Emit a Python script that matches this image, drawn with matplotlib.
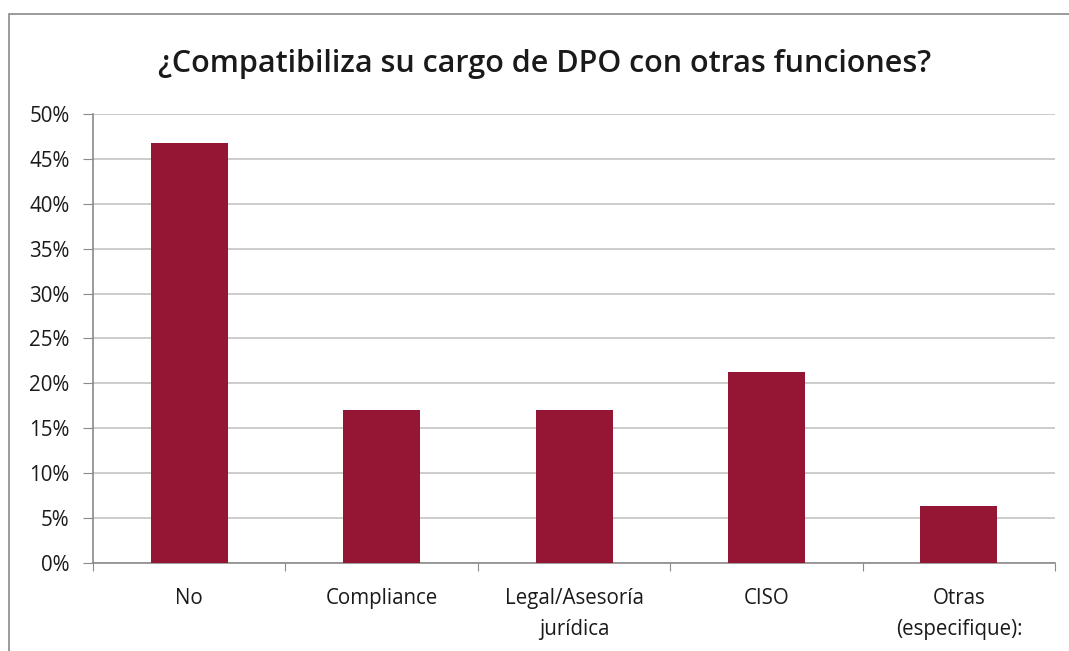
import matplotlib.pyplot as plt
from matplotlib.patches import Rectangle
from matplotlib.ticker import FuncFormatter

categories = ["No", "Compliance", "Legal/Asesoría\njurídica", "CISO", "Otras\n(especifique):"]
values = [46.8, 17.0, 17.0, 21.3, 6.4]
title = "¿Compatibiliza su cargo de DPO con otras funciones?"

plt.rcParams["font.family"] = ["Open Sans", "DejaVu Sans"]

fig = plt.figure(figsize=(10.69, 6.51), dpi=100)
ax = fig.add_axes([0.087, 0.1352, 0.900, 0.6897])

# outer chart frame (cut off on the right and bottom)
fig.patches.append(Rectangle((9 / 1069, -0.2), 1.2, 1.2 - 14 / 651,
                             transform=fig.transFigure, fill=False,
                             edgecolor="#8a8a8a", linewidth=1.2))

x = range(len(categories))
ax.bar(x, values, width=0.4, color="#951634", zorder=3)

ax.set_xlim(-0.5, len(categories) - 0.5)
ax.set_ylim(0, 50)
ax.set_yticks(range(0, 51, 5))
ax.yaxis.set_major_formatter(FuncFormatter(lambda v, p: f"{v:.0f}%"))
ax.grid(axis="y", color="#c4c4c4", linewidth=1.2, zorder=0)

ax.set_xticks([i - 0.5 for i in range(len(categories) + 1)], minor=False)
ax.set_xticklabels([])
ax.set_xticks(list(x), minor=True)
ax.set_xticklabels(categories, minor=True, fontsize=14.8, color="#1a1a1a",
                   linespacing=1.65)
ax.tick_params(axis="x", which="minor", length=0, pad=18)
ax.tick_params(axis="x", which="major", length=6, color="#8a8a8a", direction="out")
ax.tick_params(axis="y", length=7, color="#8a8a8a", labelsize=14.8,
               labelcolor="#1a1a1a", pad=10)

for s in ["top", "right"]:
    ax.spines[s].set_visible(False)
for s in ["left", "bottom"]:
    ax.spines[s].set_color("#8a8a8a")
    ax.spines[s].set_linewidth(1.2)

fig.text(545 / 1069, 1 - 64 / 651, title, ha="center", va="center",
         fontsize=22, color="#1a1a1a", fontweight="semibold")

fig.savefig("out.png", dpi=100, facecolor="white")
